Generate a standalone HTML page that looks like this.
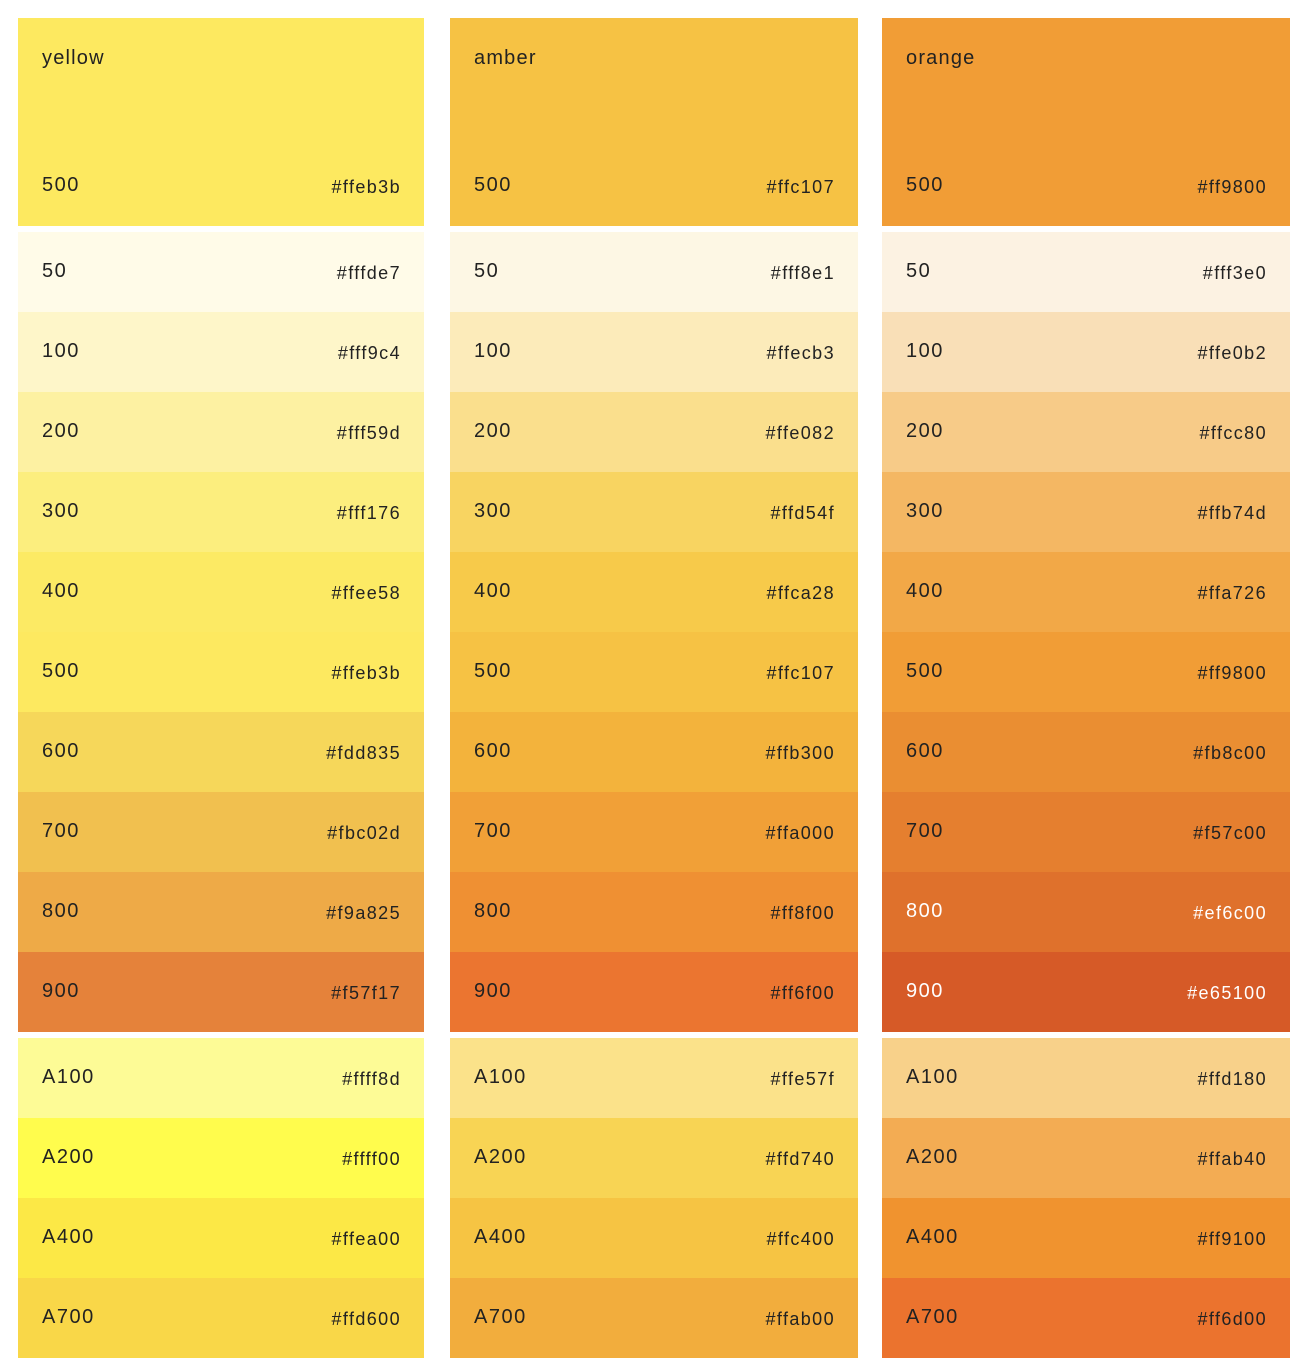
<!DOCTYPE html>
<html><head><meta charset="utf-8">
<style>
body{margin:0;width:1308px;height:1372px;background:#fff;position:relative;overflow:hidden;font-family:"Liberation Sans",sans-serif;}
.col{position:absolute;top:18px;}
.sw{position:absolute;left:0;right:0;color:#222;}
.lbl{position:absolute;left:24px;font-size:20px;line-height:20px;letter-spacing:1.5px;}
.hex{position:absolute;right:23px;font-size:18px;line-height:18px;letter-spacing:1.4px;}
.name{position:absolute;left:24px;top:30px;font-size:20px;line-height:20px;letter-spacing:1.2px;}
</style></head>
<body>
<script>
const families=["yellow","amber","orange"];
const colLeft=[18,450,882];
const colWidth=[406,408,408];
const shades=["50","100","200","300","400","500","600","700","800","900"];
const accents=["A100","A200","A400","A700"];
const hexYellow=["#fffde7","#fff9c4","#fff59d","#fff176","#ffee58","#ffeb3b","#fdd835","#fbc02d","#f9a825","#f57f17","#ffff8d","#ffff00","#ffea00","#ffd600"];
const hexAmber=["#fff8e1","#ffecb3","#ffe082","#ffd54f","#ffca28","#ffc107","#ffb300","#ffa000","#ff8f00","#ff6f00","#ffe57f","#ffd740","#ffc400","#ffab00"];
const hexOrange=["#fff3e0","#ffe0b2","#ffcc80","#ffb74d","#ffa726","#ff9800","#fb8c00","#f57c00","#ef6c00","#e65100","#ffd180","#ffab40","#ff9100","#ff6d00"];
const shownYellow=["#fffbe8","#fef6c9","#fdf1a2","#fcee7e","#fcea64","#fde960","#f6d75a","#f1c04f","#eeaa47","#e5823a","#fdfb96","#fffc4d","#fce846","#f9d748"];
const shownAmber=["#fdf7e4","#fcebba","#fadf8d","#f8d461","#f7ca4a","#f6c244","#f3b33c","#f1a037","#ef9033","#eb7530","#fbe28a","#f8d454","#f6c443","#f2ad3d"];
const shownOrange=["#fcf2e2","#f9dfb7","#f7cb88","#f4b763","#f2a847","#f19d36","#ea8e32","#e57f2f","#df712c","#d65a27","#f8d18a","#f3ac53","#f0932f","#eb732e"];
const hexes=[hexYellow,hexAmber,hexOrange];
const shown=[shownYellow,shownAmber,shownOrange];
const whiteText=[[],[],["800","900"]];

families.forEach((fam,fi)=>{
  const col=document.createElement('div');
  col.className='col';
  col.style.left=colLeft[fi]+'px';col.style.width=colWidth[fi]+'px';col.style.height='1340px';
  
  
  document.body.appendChild(col);
  const h=document.createElement('div');
  h.className='sw';h.style.top='0px';h.style.height='208px';h.style.background=shown[fi][5];
  
  
  h.innerHTML='<div class="name">'+fam+'</div><div class="lbl" style="top:157px">500</div><div class="hex" style="top:160px">'+hexes[fi][5]+'</div>';
  col.appendChild(h);
  const labels=shades.concat(accents);
  labels.forEach((lab,i)=>{
    const s=document.createElement('div');
    s.className='sw';
    const top = i<10 ? 214+i*80 : 1020+(i-10)*80;
    s.style.top=top+'px';s.style.height='80px';s.style.background=shown[fi][i];
    if(whiteText[fi].includes(lab)) s.style.color='#fff';
    
    
    s.innerHTML='<div class="lbl" style="top:29px">'+lab+'</div><div class="hex" style="top:32px">'+hexes[fi][i]+'</div>';
    col.appendChild(s);
  });
});
</script>
</body></html>
